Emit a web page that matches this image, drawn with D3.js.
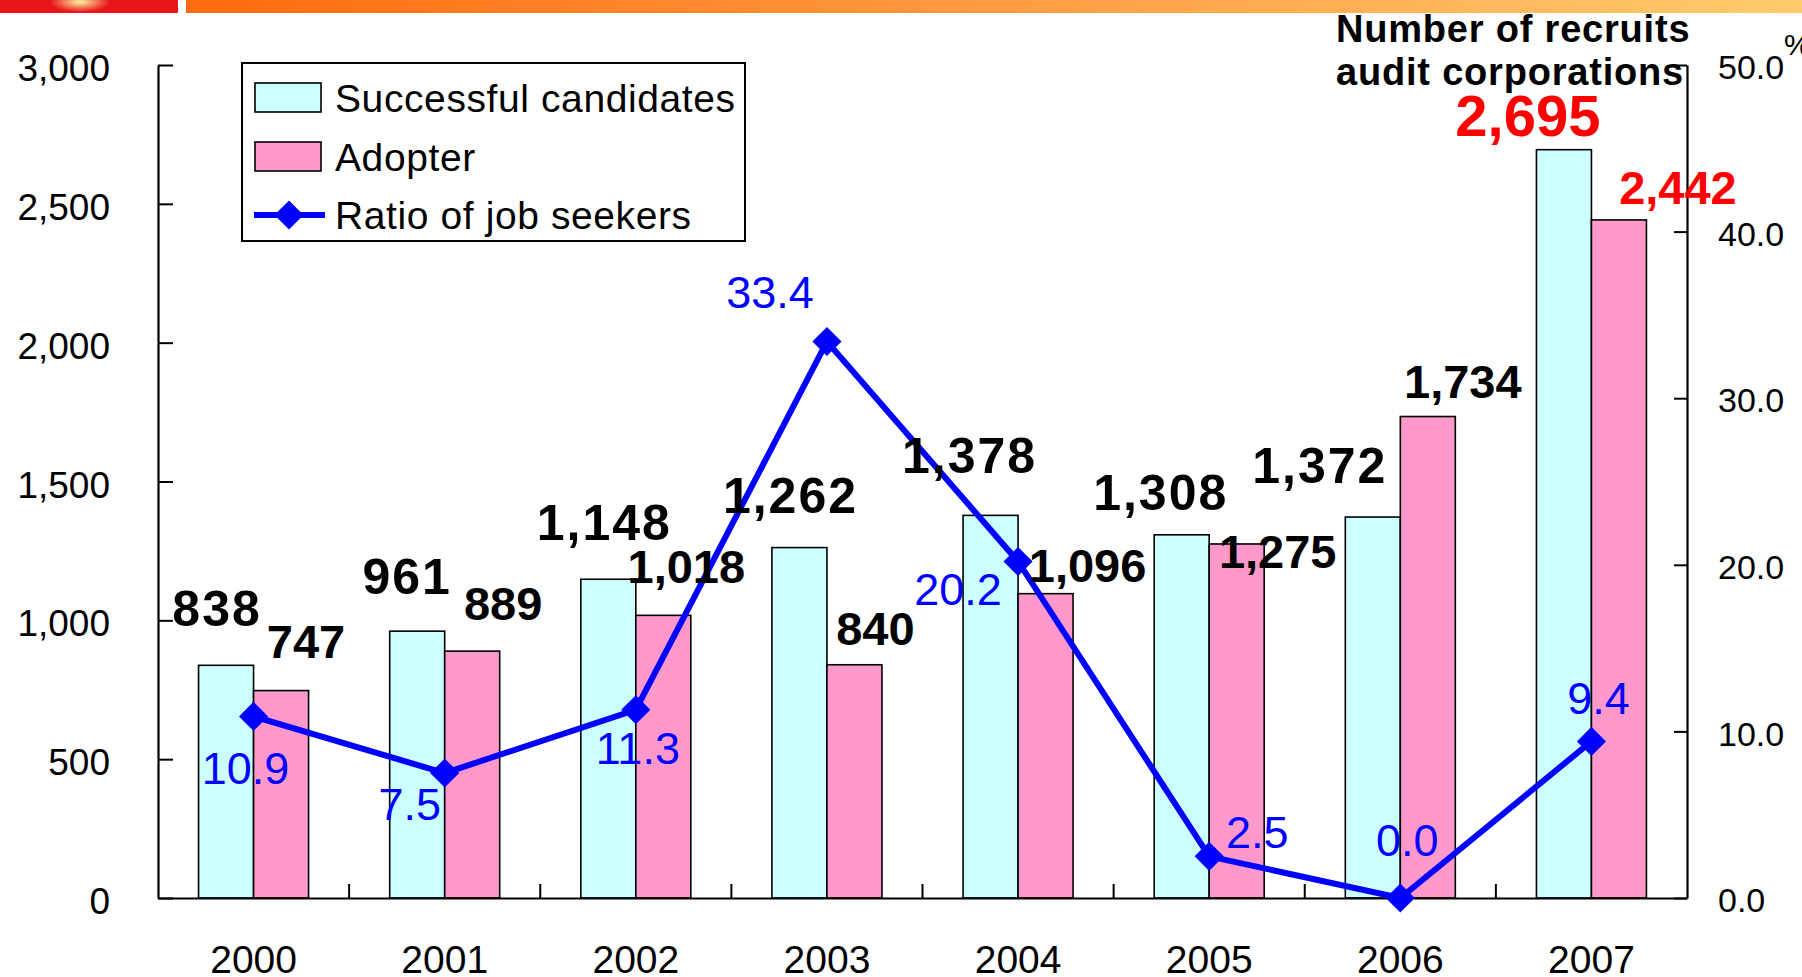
<!DOCTYPE html>
<html>
<head>
<meta charset="utf-8">
<script src="https://cdn.jsdelivr.net/npm/d3@7"></script>
<style>
  body { margin: 0; background: #fff; overflow: hidden; }
  svg { display: block; font-family: "Liberation Sans", Arial, sans-serif; }
</style>
</head>
<body>
<svg id="chart" width="1802" height="977"></svg>
<script>
var years = ["2000", "2001", "2002", "2003", "2004", "2005", "2006", "2007"];
var successful = [838, 961, 1148, 1262, 1378, 1308, 1372, 2695];
var adopters = [747, 889, 1018, 840, 1096, 1275, 1734, 2442];
var ratio = [10.9, 7.5, 11.3, 33.4, 20.2, 2.5, 0.0, 9.4];
var leftTicks = [0, 500, 1000, 1500, 2000, 2500, 3000];
var rightTicks = [0, 10, 20, 30, 40, 50];
var seriesNames = ["Successful candidates", "Adopter", "Ratio of job seekers"];
var rightTitle = ["Number of recruits", "audit corporations"];

// labels were dragged around by hand in the original, so keep the nudges (px)
var succNudge  = [[-9,-39],[-10,-37],[-4,-39],[-9,-35],[-21,-42],[-21,-25],[-53,-34],[-36,-14]];
var adoptNudge = [[25,-33],[31,-31],[23,-32],[21,-20],[42,-12],[41,24],[35,-19],[59,-16]];
var ratioNudge = [[-8,68],[-35,47],[2,54],[-57,-34],[-60,44],[48,-8],[7,-42],[7,-27]];

var cyan = "#CCFFFF", pink = "#FF99CC", blue = "#0000FF", red = "#FF0000";
// note: "top" is taken by window.top, hence the plot* names
var plotL = 158, plotR = 1687, plotT = 65, plotB = 898;

var svg = d3.select("#chart");

// header strip
var defs = svg.append("defs");
var grad = defs.append("linearGradient").attr("id", "hdr");
grad.append("stop").attr("offset", "0%").attr("stop-color", "#FF6A0E");
grad.append("stop").attr("offset", "55%").attr("stop-color", "#FFA047");
grad.append("stop").attr("offset", "100%").attr("stop-color", "#FFCB6C");
var glow = defs.append("radialGradient").attr("id", "glow");
glow.append("stop").attr("offset", "0%").attr("stop-color", "#FFF2A0");
glow.append("stop").attr("offset", "100%").attr("stop-color", "#E8161B");

svg.append("rect").attr("x", 0).attr("y", 0).attr("width", 178).attr("height", 13).attr("fill", "#E8161B");
svg.append("ellipse").attr("cx", 80).attr("cy", 2).attr("rx", 30).attr("ry", 10).attr("fill", "url(#glow)");
svg.append("rect").attr("x", 186).attr("y", 0).attr("width", 1616).attr("height", 13).attr("fill", "url(#hdr)");

var x = d3.scaleBand().domain(years).range([plotL, plotR]);
var groupW = 110;
var x1 = d3.scaleBand().domain(["s", "a"]).range([0, groupW]);
var y = d3.scaleLinear().domain([0, 3000]).range([plotB, plotT]);
var y2 = d3.scaleLinear().domain([0, 50]).range([plotB, plotT]);

function barX(i, key) {
  return x(years[i]) + (x.step() - groupW) / 2 + x1(key);
}

// bars
var g = svg.append("g");
g.selectAll(".succ")
  .data(successful)
  .enter().append("rect")
  .attr("class", "succ")
  .attr("x", function(d, i) { return barX(i, "s"); })
  .attr("y", function(d) { return y(d); })
  .attr("width", x1.bandwidth())
  .attr("height", function(d) { return plotB - y(d); })
  .attr("fill", cyan)
  .attr("stroke", "#000")
  .attr("stroke-width", 1.6);

g.selectAll(".adopt")
  .data(adopters)
  .enter().append("rect")
  .attr("class", "adopt")
  .attr("x", function(d, i) { return barX(i, "a"); })
  .attr("y", function(d) { return y(d); })
  .attr("width", x1.bandwidth())
  .attr("height", function(d) { return plotB - y(d); })
  .attr("fill", pink)
  .attr("stroke", "#000")
  .attr("stroke-width", 1.6);

// axes
var yAxis = svg.append("g")
  .attr("transform", "translate(" + plotL + ",0)")
  .call(d3.axisLeft(y).tickValues(leftTicks).tickSizeInner(-15).tickSizeOuter(0).tickPadding(48).tickFormat(d3.format(",")));
var y2Axis = svg.append("g")
  .attr("transform", "translate(" + plotR + ",0)")
  .call(d3.axisRight(y2).tickValues(rightTicks).tickSizeInner(-13).tickSizeOuter(0).tickPadding(31).tickFormat(d3.format(".1f")));
var xAxis = svg.append("g")
  .attr("transform", "translate(0," + plotB + ")")
  .call(d3.axisBottom(x).tickSizeInner(0).tickSizeOuter(0).tickPadding(47));

[yAxis, y2Axis, xAxis].forEach(function(a) {
  a.selectAll("path.domain").attr("stroke", "#000").attr("stroke-width", 2.2);
  a.selectAll(".tick line").attr("stroke", "#000").attr("stroke-width", 2);
  a.selectAll("text").attr("fill", "#000").attr("font-family", "'Liberation Sans', Arial, sans-serif");
});
yAxis.selectAll("text").attr("font-size", 37).attr("dy", "0.42em");
y2Axis.selectAll("text").attr("font-size", 34).attr("dy", "0.4em");
xAxis.selectAll("text").attr("font-size", 39);

// category boundary ticks pointing up
svg.append("g").selectAll("line")
  .data(years.slice(1))
  .enter().append("line")
  .attr("x1", function(d) { return x(d); })
  .attr("x2", function(d) { return x(d); })
  .attr("y1", plotB)
  .attr("y2", plotB - 14)
  .attr("stroke", "#000")
  .attr("stroke-width", 2);

svg.append("text")
  .attr("x", 1784).attr("y", 55)
  .attr("font-size", 30)
  .text("%");

// ratio line
var line = d3.line()
  .x(function(d, i) { return x(years[i]) + x.bandwidth() / 2; })
  .y(function(d) { return y2(d); });

svg.append("path")
  .datum(ratio)
  .attr("d", line)
  .attr("fill", "none")
  .attr("stroke", blue)
  .attr("stroke-width", 6);

var diamond = d3.symbol().type(d3.symbolDiamond2).size(540);
svg.selectAll(".pt")
  .data(ratio)
  .enter().append("path")
  .attr("class", "pt")
  .attr("d", diamond)
  .attr("transform", function(d, i) {
    return "translate(" + (x(years[i]) + x.bandwidth() / 2) + "," + y2(d) + ")";
  })
  .attr("fill", blue);

// data labels
var last = years.length - 1;
svg.selectAll(".succLbl")
  .data(successful)
  .enter().append("text")
  .attr("class", "succLbl")
  .attr("x", function(d, i) { return barX(i, "s") + x1.bandwidth() / 2 + succNudge[i][0]; })
  .attr("y", function(d, i) { return y(d) + succNudge[i][1]; })
  .attr("text-anchor", "middle")
  .attr("font-weight", "bold")
  .attr("font-size", function(d, i) { return i == last ? 58 : 50; })
  .attr("letter-spacing", function(d, i) { return i == last ? 0 : 2; })
  .attr("fill", function(d, i) { return i == last ? red : "#000"; })
  .text(d3.format(","));

svg.selectAll(".adoptLbl")
  .data(adopters)
  .enter().append("text")
  .attr("class", "adoptLbl")
  .attr("x", function(d, i) { return barX(i, "a") + x1.bandwidth() / 2 + adoptNudge[i][0]; })
  .attr("y", function(d, i) { return y(d) + adoptNudge[i][1]; })
  .attr("text-anchor", "middle")
  .attr("font-weight", "bold")
  .attr("font-size", 47)
  .attr("fill", function(d, i) { return i == last ? red : "#000"; })
  .text(d3.format(","));

svg.selectAll(".ratioLbl")
  .data(ratio)
  .enter().append("text")
  .attr("class", "ratioLbl")
  .attr("x", function(d, i) { return x(years[i]) + x.bandwidth() / 2 + ratioNudge[i][0]; })
  .attr("y", function(d, i) { return y2(d) + ratioNudge[i][1]; })
  .attr("text-anchor", "middle")
  .attr("font-size", 45)
  .attr("fill", blue)
  .text(d3.format(".1f"));

// title over the right axis
svg.selectAll(".rtitle")
  .data(rightTitle)
  .enter().append("text")
  .attr("x", 1336)
  .attr("y", function(d, i) { return 42 + i * 43; })
  .attr("font-size", 38)
  .attr("letter-spacing", 0.8)
  .attr("font-weight", "bold")
  .text(function(d) { return d; });

// legend
var legend = svg.append("g").attr("transform", "translate(242,63)");
legend.append("rect")
  .attr("width", 503).attr("height", 178)
  .attr("fill", "#fff").attr("stroke", "#000").attr("stroke-width", 2);

var rowY = [35, 94, 152];
var swatchFill = [cyan, pink];
legend.selectAll(".sw")
  .data(swatchFill)
  .enter().append("rect")
  .attr("x", 13).attr("y", function(d, i) { return rowY[i] - 15; })
  .attr("width", 66).attr("height", 29)
  .attr("fill", function(d) { return d; })
  .attr("stroke", "#000").attr("stroke-width", 1.6);

legend.append("line")
  .attr("x1", 12).attr("x2", 83)
  .attr("y1", rowY[2]).attr("y2", rowY[2])
  .attr("stroke", blue).attr("stroke-width", 6);
legend.append("path")
  .attr("d", diamond)
  .attr("transform", "translate(47," + rowY[2] + ")")
  .attr("fill", blue);

legend.selectAll(".ltxt")
  .data(seriesNames)
  .enter().append("text")
  .attr("x", 93)
  .attr("y", function(d, i) { return rowY[i] + 14; })
  .attr("font-size", 39)
  .attr("letter-spacing", 0.6)
  .text(function(d) { return d; });
</script>
</body>
</html>
